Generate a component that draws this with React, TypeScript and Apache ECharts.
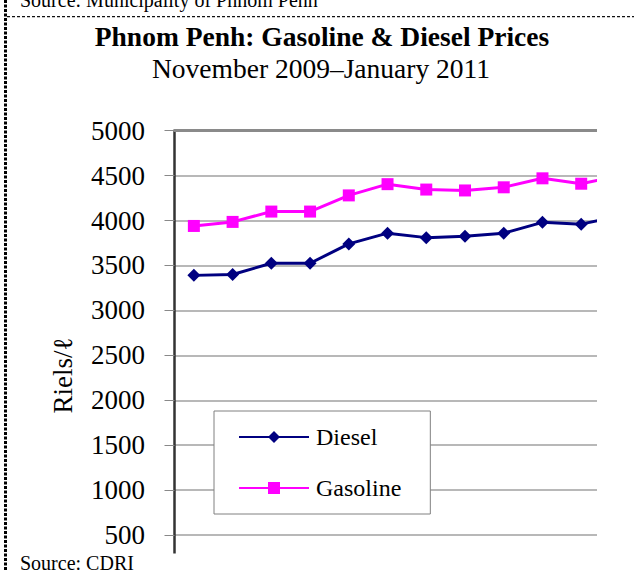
import React, { useEffect, useRef } from "react";
import * as echarts from "echarts";

const categories = [
  "Nov 2009", "Dec 2009", "Jan 2010", "Feb 2010", "Mar 2010", "Apr 2010",
  "May 2010", "Jun 2010", "Jul 2010", "Aug 2010", "Sep 2010", "Oct 2010",
  "Nov 2010", "Dec 2010", "Jan 2011",
];
const diesel = [3390, 3400, 3525, 3525, 3740, 3860, 3810, 3825, 3860, 3980, 3960, 4050];
const gasoline = [3940, 3985, 4100, 4100, 4280, 4405, 4345, 4335, 4370, 4470, 4410, 4500];
const yTicks = { min: 0, max: 5000, interval: 500 };

const titleText = "Phnom Penh: Gasoline & Diesel Prices";
const subtitleText = "November 2009\u2013January 2011";
const yName = "Riels/\u2113";
const topSource = "Source: Municipality of Phnom Penh";
const bottomSource = "Source: CDRI";

const SERIF = "Liberation Serif";

function txt(x: number, y: number, text: string, font: string, align: string, extra: any = {}) {
  return {
    type: "text",
    x,
    y,
    z: 110,
    ...extra,
    style: {
      text,
      font,
      fill: "#000",
      align,
      textAlign: align,
      verticalAlign: "middle",
      textVerticalAlign: "middle",
    },
  };
}

export default function App() {
  const ref = useRef<HTMLDivElement>(null);
  useEffect(() => {
    if (!ref.current) return;
    const chart = echarts.init(ref.current, null, { renderer: "svg" });
    chart.setOption({
      animation: false,
      backgroundColor: "#fff",
      grid: { left: 174.5, top: 130.7, width: 581, height: 449.3, containLabel: false },
      xAxis: [
        {
          type: "category",
          data: categories,
          boundaryGap: true,
          position: "bottom",
          axisLine: { show: false },
          axisTick: { show: false },
          axisLabel: { show: false },
          splitLine: { show: false },
        },
        {
          type: "category",
          data: categories,
          boundaryGap: true,
          position: "top",
          axisLine: { show: true, lineStyle: { color: "#8a8a8a", width: 3 } },
          axisTick: { show: false },
          axisLabel: { show: false },
          splitLine: { show: false },
        },
      ],
      yAxis: {
        type: "value",
        min: yTicks.min,
        max: yTicks.max,
        interval: yTicks.interval,
        axisLine: { show: true, lineStyle: { color: "#333", width: 2.5 } },
        axisTick: { show: true, length: 10, lineStyle: { color: "#888", width: 1 } },
        axisLabel: {
          margin: 29.5,
          fontFamily: SERIF,
          fontSize: 27,
          color: "#000",
          formatter: (v: number) => (v === 0 ? "" : String(v)),
        },
        splitLine: { show: true, lineStyle: { color: "#a0a0a0", width: 1.5 } },
      },
      legend: {
        left: 214,
        top: 411,
        orient: "vertical",
        padding: [14, 29, 14, 24],
        itemGap: 27,
        itemWidth: 70,
        itemHeight: 15,
        borderColor: "#808080",
        borderWidth: 1,
        backgroundColor: "#fff",
        textStyle: {
          fontFamily: SERIF,
          fontSize: 24,
          color: "#000",
          lineHeight: 24,
          padding: [0, 0, 0, 2],
        },
        data: ["Diesel", "Gasoline"],
      },
      series: [
        {
          name: "Diesel",
          type: "line",
          data: diesel,
          symbol: "diamond",
          symbolSize: 13,
          itemStyle: { color: "#000080" },
          lineStyle: { color: "#000080", width: 3 },
          z: 3,
        },
        {
          name: "Gasoline",
          type: "line",
          data: gasoline,
          symbol: "rect",
          symbolSize: 12,
          itemStyle: { color: "#ff00ff" },
          lineStyle: { color: "#ff00ff", width: 3 },
          z: 3,
        },
      ],
      graphic: [
        { type: "rect", z: 100, shape: { x: 597, y: 100, width: 300, height: 600 }, style: { fill: "#fff" } },
        { type: "rect", z: 100, shape: { x: 9, y: 553.5, width: 900, height: 100 }, style: { fill: "#fff" } },
        { type: "line", z: 120, shape: { x1: 5.5, y1: 0, x2: 5.5, y2: 571 }, style: { stroke: "#000", lineWidth: 3, lineDash: [3, 1.5] } },
        { type: "line", z: 120, shape: { x1: 7, y1: 16.7, x2: 634, y2: 16.7 }, style: { stroke: "#111", lineWidth: 1.2, lineDash: [3, 2] } },
        txt(20, 0.3, topSource, `20px ${SERIF}`, "left"),
        txt(20, 562.5, bottomSource, `20px ${SERIF}`, "left"),
        txt(322, 36.8, titleText, `bold 27.5px ${SERIF}`, "center"),
        txt(321, 68.5, subtitleText, `27.5px ${SERIF}`, "center"),
        txt(63, 375.5, yName, `27px ${SERIF}`, "center", { rotation: Math.PI / 2 }),
      ],
    });
    return () => chart.dispose();
  }, []);
  return (
    <div style={{ position: "fixed", left: 0, top: 0, width: 634, height: 571, overflow: "hidden", background: "#fff" }}>
      <div ref={ref} style={{ position: "absolute", left: 0, top: 0, width: 800, height: 600 }} />
    </div>
  );
}
